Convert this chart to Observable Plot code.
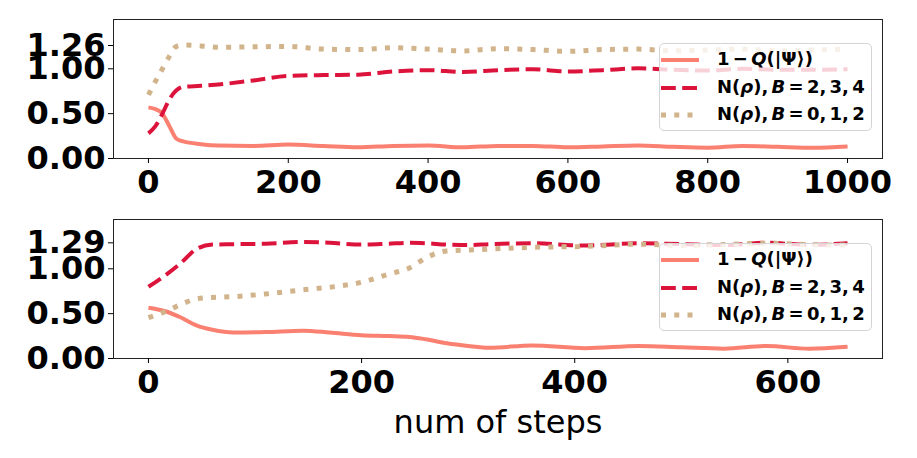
<!DOCTYPE html>
<html>
<head>
<meta charset="utf-8">
<script src="https://cdn.jsdelivr.net/npm/d3@7"></script>
<script src="https://cdn.jsdelivr.net/npm/@observablehq/plot@0.6"></script>
<style>
  html, body { margin: 0; padding: 0; background: #fff; }
  #chart { position: relative; width: 917px; height: 458px; font-family: "DejaVu Sans", sans-serif; }
  #chart svg { position: absolute; left: 0; overflow: visible; }
  g[aria-label="x-axis label"] text { font-weight: normal; }
  .legend { position: absolute; left: 659px; width: 213px; height: 88px; box-sizing: border-box;
            background: rgba(255,255,255,0.8); border: 1px solid #d4d4d4; border-radius: 5px;
            font-family: "DejaVu Sans", sans-serif; font-weight: bold; font-size: 18px; color: #000; }
  .legend .row { position: absolute; left: 0; height: 24px; width: 100%; }
  .legend .row svg { position: absolute; left: 5px; top: 0; }
  .legend .row span { position: absolute; left: 57px; top: 0px; white-space: nowrap; line-height: 22px; word-spacing: -3px; }
</style>
</head>
<body>
<div id="chart"></div>
<script>
// ---- data: top panel ----
const topSteps = [0,10,20,30,40,50,75,100,150,200,250,300,350,400,450,500,550,600,650,700,750,800,850,900,950,1000];
const topFidelity = [0.57,0.55,0.50,0.36,0.22,0.19,0.16,0.145,0.14,0.155,0.14,0.125,0.14,0.145,0.125,0.14,0.14,0.125,0.135,0.145,0.13,0.12,0.14,0.13,0.12,0.135];
const topNegB234 = [0.28,0.36,0.50,0.66,0.76,0.80,0.81,0.825,0.87,0.92,0.93,0.935,0.97,0.985,0.965,0.985,0.995,0.97,0.985,1.005,0.99,0.98,1.0,0.99,0.99,0.995];
const topNegB012 = [0.71,0.86,1.0,1.14,1.25,1.265,1.255,1.24,1.245,1.25,1.22,1.215,1.235,1.22,1.2,1.225,1.215,1.195,1.215,1.22,1.2,1.21,1.22,1.2,1.21,1.22];
const topXTicks = [0,200,400,600,800,1000];
const topYTicks = [0,0.5,1.0,1.26];

// ---- data: bottom panel ----
const botSteps = [0,15,30,45,60,80,110,145,170,200,225,245,260,280,300,320,360,410,460,500,540,580,620,656];
const botFidelity = [0.567,0.53,0.46,0.37,0.32,0.29,0.295,0.31,0.29,0.26,0.25,0.24,0.215,0.17,0.14,0.12,0.145,0.115,0.14,0.125,0.11,0.14,0.108,0.13];
const botNegB234 = [0.80,0.92,1.06,1.22,1.27,1.275,1.28,1.30,1.29,1.27,1.28,1.29,1.285,1.27,1.265,1.275,1.285,1.26,1.285,1.275,1.265,1.29,1.267,1.285];
const botNegB012 = [0.455,0.52,0.60,0.665,0.68,0.69,0.72,0.765,0.795,0.85,0.94,1.01,1.12,1.2,1.21,1.22,1.24,1.25,1.275,1.26,1.27,1.285,1.27,1.265];
const botXTicks = [0,200,400,600];
const botYTicks = [0,0.5,1.0,1.29];

const seriesLabels = ["1 − Q(|Ψ⟩)", "N(ρ), B = 2, 3, 4", "N(ρ), B = 0, 1, 2"];
const seriesHtml = ["1 − <i>Q</i>(|Ψ⟩)", "N(<i>ρ</i>), <i>B</i> = 2, 3, 4", "N(<i>ρ</i>), <i>B</i> = 0, 1, 2"];
const colors = ["#fa8072", "#dc143c", "#d2b48c"];
const dashes = [null, "14.8,6.4", "5,8.25"];
const widths = [4, 4, 5];

function rows(steps, a, b, c) {
  const vals = [a, b, c];
  return vals.flatMap((v, s) => steps.map((x, i) => ({step: x, value: v[i], series: s})));
}

function panel({steps, f, n1, n2, xTicks, yTicks, xDomain, height, marginBottom, label}) {
  const data = rows(steps, f, n1, n2);
  const marks = [0, 1, 2].map(s => Plot.line(data.filter(d => d.series === s), {
    x: "step", y: "value", stroke: colors[s], strokeWidth: widths[s],
    strokeDasharray: dashes[s], strokeLinecap: "butt", curve: "monotone-x"
  }));
  return Plot.plot({
    width: 917, height,
    marginLeft: 113, marginRight: 35, marginTop: 19, marginBottom,
    style: {fontFamily: "DejaVu Sans, sans-serif", fontWeight: "bold", fontSize: "32px", color: "#000", background: "transparent"},
    x: {domain: xDomain},
    y: {domain: [0, 1.55]},
    marks: [
      ...marks,
      Plot.frame({stroke: "#222", strokeWidth: 1}),
      Plot.axisX({ticks: xTicks, tickSize: 5, tickPadding: 7, tickFormat: d3.format("d"),
                  label: label, labelAnchor: "center", labelArrow: "none", labelOffset: 74}),
      Plot.axisY({ticks: yTicks, tickSize: 5, tickPadding: 3, tickFormat: d3.format(".2f"), label: null})
    ]
  });
}

function legend(top) {
  const div = document.createElement("div");
  div.className = "legend";
  div.style.top = top + "px";
  seriesLabels.forEach((lab, s) => {
    const row = document.createElement("div");
    row.className = "row";
    row.style.top = (4 + s * 27.5) + "px";
    const dash = dashes[s] ? ` stroke-dasharray="${dashes[s]}"` : "";
    row.innerHTML = `<svg width="40" height="24"><line x1="1" x2="39" y1="12" y2="12" stroke="${colors[s]}" stroke-width="${widths[s]}"${dash}/></svg><span title="${lab}">${seriesHtml[s]}</span>`;
    div.appendChild(row);
  });
  return div;
}

const chart = document.getElementById("chart");
const top1 = panel({steps: topSteps, f: topFidelity, n1: topNegB234, n2: topNegB012,
  xTicks: topXTicks, yTicks: topYTicks, xDomain: [-50, 1050], height: 200, marginBottom: 42, label: null});
top1.style.top = "0px";
chart.appendChild(top1);
const bot = panel({steps: botSteps, f: botFidelity, n1: botNegB234, n2: botNegB012,
  xTicks: botXTicks, yTicks: botYTicks, xDomain: [-32.8, 688.8], height: 258, marginBottom: 100, label: "num of steps"});
bot.style.top = "200px";
chart.appendChild(bot);
chart.appendChild(legend(43));
chart.appendChild(legend(243));
</script>
</body>
</html>
